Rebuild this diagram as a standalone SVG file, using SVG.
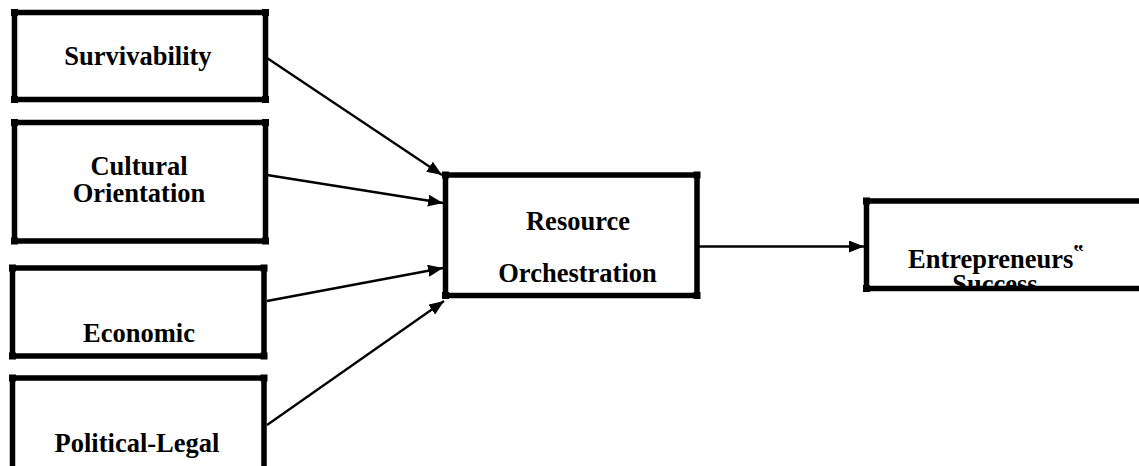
<svg xmlns="http://www.w3.org/2000/svg" width="1139" height="466" viewBox="0 0 1139 466">
  <style>
    .edge { stroke: #000; stroke-width: 5.5; fill: none; }
    .corner { fill: #000; }
    .label { font-family: "Liberation Serif", "Times New Roman", serif; font-weight: bold; font-size: 26.5px; fill: #000; text-anchor: middle; }
    .conn { stroke: #000; stroke-width: 2.3; fill: none; }
  </style>
  <defs>
    <marker id="arrow" markerUnits="userSpaceOnUse" markerWidth="16" markerHeight="12" refX="15" refY="6" orient="auto">
      <path d="M0,0 L15,6 L0,12 Z" fill="#000"/>
    </marker>
    <clipPath id="clip-success">
      <rect x="866" y="201" width="273" height="85"/>
    </clipPath>
  </defs>
  <rect width="1139" height="466" fill="#fff"/>

  <!-- Survivability -->
  <g id="node-survivability">
    <path class="edge" d="M14.5,12.5 H265.5 M14.5,99.5 H265.5 M14.5,12.5 V99.5 M265.5,12.5 V99.5"/>
    <rect class="corner" x="11" y="9" width="7" height="7"/>
    <rect class="corner" x="262" y="9" width="7" height="7"/>
    <rect class="corner" x="11" y="96" width="7" height="7"/>
    <rect class="corner" x="262" y="96" width="7" height="7"/>
    <text class="label" x="138" y="65">Survivability</text>
  </g>

  <!-- Cultural Orientation -->
  <g id="node-cultural">
    <path class="edge" d="M14.5,122.5 H265.5 M14.5,241 H265.5 M14.5,122.5 V241 M265.5,122.5 V241"/>
    <rect class="corner" x="11" y="119" width="7" height="7"/>
    <rect class="corner" x="262" y="119" width="7" height="7"/>
    <rect class="corner" x="11" y="237.5" width="7" height="7"/>
    <rect class="corner" x="262" y="237.5" width="7" height="7"/>
    <text class="label" x="139" y="175">Cultural</text>
    <text class="label" x="139" y="201.5">Orientation</text>
  </g>

  <!-- Economic -->
  <g id="node-economic">
    <path class="edge" d="M12.5,268 H264 M12.5,356 H264 M12.5,268 V356 M264,268 V356"/>
    <rect class="corner" x="9" y="264.5" width="7" height="7"/>
    <rect class="corner" x="260.5" y="264.5" width="7" height="7"/>
    <rect class="corner" x="9" y="352.5" width="7" height="7"/>
    <rect class="corner" x="260.5" y="352.5" width="7" height="7"/>
    <text class="label" x="139" y="342">Economic</text>
  </g>

  <!-- Political-Legal -->
  <g id="node-political">
    <path class="edge" d="M12.5,378 H264 M12.5,378 V470 M264,378 V470"/>
    <rect class="corner" x="9" y="374.5" width="7" height="7"/>
    <rect class="corner" x="260.5" y="374.5" width="7" height="7"/>
    <text class="label" x="137" y="452">Political-Legal</text>
  </g>

  <!-- Resource Orchestration -->
  <g id="node-resource">
    <path class="edge" d="M445.5,175 H697 M445.5,295.5 H697 M445.5,175 V295.5 M697,175 V295.5"/>
    <rect class="corner" x="442" y="171.5" width="7" height="7"/>
    <rect class="corner" x="693.5" y="171.5" width="7" height="7"/>
    <rect class="corner" x="442" y="292" width="7" height="7"/>
    <rect class="corner" x="693.5" y="292" width="7" height="7"/>
    <text class="label" x="578" y="230">Resource</text>
    <text class="label" x="577.5" y="281.5">Orchestration</text>
  </g>

  <!-- Entrepreneurs' Success, the lower line cut off by the bottom edge -->
  <g id="node-success">
    <text class="label" x="996" y="268">Entrepreneurs<tspan font-size="21" dy="-9">‟</tspan></text>
    <text class="label" x="995" y="293" clip-path="url(#clip-success)">Success</text>
    <path class="edge" d="M866.5,201 H1145 M866.5,288.5 H1145 M866.5,201 V288.5"/>
    <rect class="corner" x="863" y="197.5" width="7" height="7"/>
    <rect class="corner" x="863" y="285" width="7" height="7"/>
  </g>

  <!-- Connectors -->
  <g id="connectors">
    <line class="conn" x1="267" y1="58" x2="442" y2="175" marker-end="url(#arrow)"/>
    <line class="conn" x1="267" y1="175" x2="443" y2="203" marker-end="url(#arrow)"/>
    <line class="conn" x1="267" y1="301" x2="443" y2="268" marker-end="url(#arrow)"/>
    <line class="conn" x1="267" y1="425" x2="444" y2="301" marker-end="url(#arrow)"/>
    <line class="conn" x1="699" y1="246.5" x2="864" y2="246.5" marker-end="url(#arrow)"/>
  </g>
</svg>
